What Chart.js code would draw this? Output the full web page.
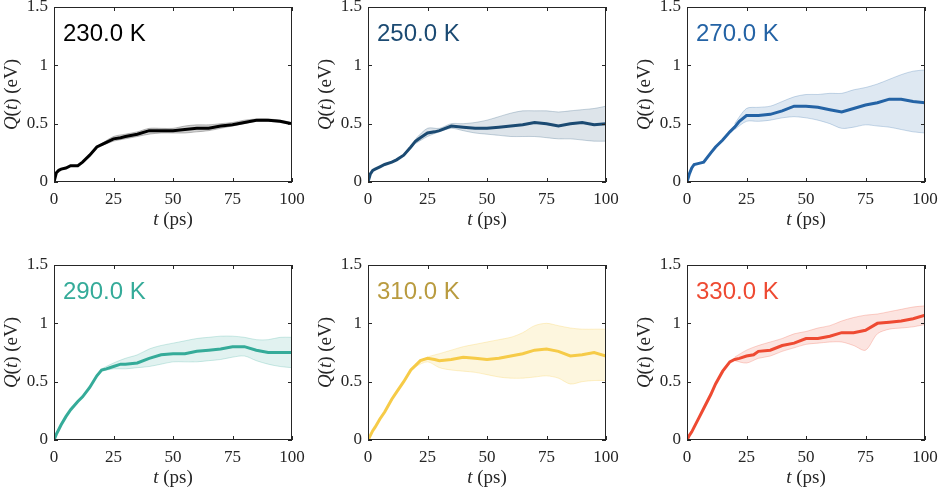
<!DOCTYPE html>
<html lang="en">
<head>
<meta charset="UTF-8">
<title>Q(t) vs t</title>
<script src="https://cdn.jsdelivr.net/npm/chart.js"></script>
<style>
  body { margin: 0; width: 940px; height: 492px; overflow: hidden; background: #fff; position: relative; }
  canvas { position: absolute; }
</style>
</head>
<body>
<script>
// time axis (ps) for the mean curves
const tMain = [0, 1, 2, 3, 5, 7, 10, 12, 15, 18, 20, 22, 25, 28, 30, 35, 40, 45, 50, 55, 60, 65, 70, 75, 80, 85, 90, 95, 100];

// mean Q(t) in eV, one list per temperature
const q230 = [0, 0.08, 0.10, 0.11, 0.12, 0.14, 0.14, 0.17, 0.23, 0.30, 0.32, 0.34, 0.37, 0.38, 0.39, 0.41, 0.44, 0.44, 0.44, 0.45, 0.46, 0.46, 0.48, 0.49, 0.51, 0.53, 0.53, 0.52, 0.50];
const q250 = [0, 0.07, 0.10, 0.11, 0.13, 0.15, 0.17, 0.19, 0.23, 0.30, 0.35, 0.38, 0.42, 0.43, 0.44, 0.48, 0.47, 0.46, 0.46, 0.47, 0.48, 0.49, 0.51, 0.50, 0.48, 0.50, 0.51, 0.49, 0.50];
const q270 = [0, 0.07, 0.12, 0.15, 0.16, 0.17, 0.25, 0.30, 0.36, 0.43, 0.47, 0.52, 0.57, 0.57, 0.57, 0.58, 0.61, 0.65, 0.65, 0.64, 0.62, 0.60, 0.63, 0.66, 0.68, 0.71, 0.71, 0.69, 0.68];
const q290 = [0, 0.05, 0.09, 0.13, 0.20, 0.26, 0.33, 0.37, 0.45, 0.55, 0.60, 0.61, 0.63, 0.65, 0.65, 0.66, 0.70, 0.73, 0.74, 0.74, 0.76, 0.77, 0.78, 0.80, 0.80, 0.77, 0.75, 0.75, 0.75];
const q310 = [0, 0.04, 0.08, 0.11, 0.18, 0.24, 0.35, 0.41, 0.50, 0.60, 0.64, 0.68, 0.70, 0.69, 0.68, 0.69, 0.71, 0.70, 0.69, 0.70, 0.72, 0.74, 0.77, 0.78, 0.76, 0.72, 0.73, 0.75, 0.72];
const q330 = [0, 0.04, 0.07, 0.11, 0.19, 0.27, 0.39, 0.48, 0.59, 0.67, 0.69, 0.70, 0.72, 0.73, 0.76, 0.77, 0.81, 0.83, 0.87, 0.87, 0.89, 0.92, 0.92, 0.94, 1.00, 1.01, 1.02, 1.04, 1.07];

// time axis for the spread bands
const tBand = [20, 25, 30, 35, 40, 45, 50, 55, 60, 65, 70, 75, 80, 85, 90, 95, 100];

const lo230 = [0.31, 0.35, 0.37, 0.39, 0.41, 0.42, 0.42, 0.42, 0.43, 0.44, 0.46, 0.48, 0.50, 0.52, 0.52, 0.51, 0.49];
const hi230 = [0.33, 0.39, 0.41, 0.43, 0.46, 0.46, 0.46, 0.48, 0.49, 0.49, 0.50, 0.51, 0.53, 0.54, 0.54, 0.53, 0.51];
const lo250 = [0.33, 0.39, 0.43, 0.46, 0.44, 0.42, 0.41, 0.40, 0.39, 0.39, 0.39, 0.38, 0.37, 0.37, 0.36, 0.35, 0.35];
const hi250 = [0.37, 0.46, 0.46, 0.50, 0.50, 0.51, 0.53, 0.56, 0.59, 0.61, 0.61, 0.61, 0.60, 0.61, 0.62, 0.63, 0.65];
const lo270 = [0.45, 0.52, 0.52, 0.53, 0.55, 0.56, 0.55, 0.53, 0.50, 0.46, 0.47, 0.49, 0.48, 0.47, 0.45, 0.43, 0.42];
const hi270 = [0.50, 0.63, 0.64, 0.65, 0.69, 0.73, 0.75, 0.75, 0.76, 0.76, 0.79, 0.81, 0.84, 0.88, 0.92, 0.95, 0.96];
const lo290 = [0.59, 0.61, 0.61, 0.62, 0.63, 0.65, 0.67, 0.67, 0.67, 0.68, 0.69, 0.71, 0.72, 0.68, 0.65, 0.63, 0.62];
const hi290 = [0.61, 0.66, 0.70, 0.73, 0.78, 0.81, 0.83, 0.85, 0.87, 0.88, 0.89, 0.89, 0.88, 0.86, 0.86, 0.88, 0.88];
const lo310 = [0.63, 0.67, 0.62, 0.60, 0.59, 0.58, 0.56, 0.54, 0.53, 0.53, 0.54, 0.55, 0.53, 0.48, 0.50, 0.51, 0.51];
const hi310 = [0.65, 0.71, 0.74, 0.77, 0.80, 0.82, 0.84, 0.86, 0.88, 0.92, 0.98, 1.00, 0.98, 0.96, 0.95, 0.95, 0.95];
const lo330 = [0.68, 0.66, 0.70, 0.72, 0.76, 0.79, 0.82, 0.83, 0.84, 0.84, 0.81, 0.77, 0.91, 0.95, 0.96, 0.97, 0.99];
const hi330 = [0.71, 0.77, 0.81, 0.84, 0.87, 0.91, 0.93, 0.96, 0.98, 1.02, 1.05, 1.07, 1.08, 1.10, 1.12, 1.14, 1.15];

const tempLabels = ['230.0 K', '250.0 K', '270.0 K', '290.0 K', '310.0 K', '330.0 K'];
const xTicks = [0, 25, 50, 75, 100];
const yTicks = [0, 0.5, 1, 1.5];

const means = [q230, q250, q270, q290, q310, q330];
const lows = [lo230, lo250, lo270, lo290, lo310, lo330];
const highs = [hi230, hi250, hi270, hi290, hi310, hi330];

const lineColors = ['#000000', '#1b4a72', '#2463a5', '#35ab99', '#f6cb48', '#ee4a32'];
const textColors = ['#000000', '#1b4a72', '#2463a5', '#35ab99', '#b99b3f', '#ee4a32'];
const bandFills = ['rgba(0,0,0,0.18)', 'rgba(27,74,114,0.15)', 'rgba(36,99,165,0.15)', 'rgba(53,171,153,0.15)', 'rgba(246,203,72,0.18)', 'rgba(238,74,50,0.15)'];
const bandEdges = ['rgba(0,0,0,0.3)', 'rgba(27,74,114,0.3)', 'rgba(36,99,165,0.3)', 'rgba(53,171,153,0.3)', 'rgba(246,203,72,0.35)', 'rgba(238,74,50,0.3)'];

// panel placement (canvas top-left), 2 rows x 3 cols
const colLeft = [0, 314, 633];
const rowTop = [0, 258];

const serif = '"Liberation Serif", "DejaVu Serif", serif';

// draws text pieces with mixed italic / upright, centred at (cx, cy)
function mixedText(ctx, parts, cx, cy, size) {
  let w = 0;
  parts.forEach(p => { ctx.font = (p[1] ? 'italic ' : '') + size + 'px ' + serif; w += ctx.measureText(p[0]).width; });
  let x = cx - w / 2;
  ctx.textBaseline = 'middle';
  ctx.textAlign = 'left';
  parts.forEach(p => {
    ctx.font = (p[1] ? 'italic ' : '') + size + 'px ' + serif;
    ctx.fillText(p[0], x, cy);
    x += ctx.measureText(p[0]).width;
  });
}

const framePlugin = {
  id: 'frame',
  afterDraw(chart, args, opts) {
    const { ctx, chartArea: a, scales: { x, y } } = chart;
    ctx.save();
    ctx.strokeStyle = '#262626';
    ctx.lineWidth = 1;
    ctx.strokeRect(a.left + 0.5, a.top + 0.5, a.right - a.left - 1, a.bottom - a.top - 1);
    const tl = 4;
    ctx.beginPath();
    x.ticks.forEach(t => {
      const px = Math.round(x.getPixelForValue(t.value)) + 0.5;
      ctx.moveTo(px, a.bottom); ctx.lineTo(px, a.bottom - tl);
      ctx.moveTo(px, a.top); ctx.lineTo(px, a.top + tl);
    });
    y.ticks.forEach(t => {
      const py = Math.round(y.getPixelForValue(t.value)) + 0.5;
      ctx.moveTo(a.left, py); ctx.lineTo(a.left + tl, py);
      ctx.moveTo(a.right, py); ctx.lineTo(a.right - tl, py);
    });
    ctx.stroke();

    // temperature label
    ctx.fillStyle = opts.color;
    ctx.font = '24px "Liberation Sans", Arial, sans-serif';
    ctx.textBaseline = 'alphabetic';
    ctx.textAlign = 'left';
    ctx.fillText(opts.text, a.left + 9, a.top + 34);

    // axis titles
    ctx.fillStyle = '#262626';
    mixedText(ctx, [['t', true], [' (ps)', false]], (a.left + a.right) / 2, a.bottom + 38, 19);
    ctx.translate(12, (a.top + a.bottom) / 2);
    ctx.rotate(-Math.PI / 2);
    mixedText(ctx, [['Q', true], ['(', false], ['t', true], [') (eV)', false]], 0, 0, 19);
    ctx.restore();
  }
};

for (let i = 0; i < 6; i++) {
  const cv = document.createElement('canvas');
  cv.width = 306;
  cv.height = 234;
  cv.style.left = colLeft[i % 3] + 'px';
  cv.style.top = rowTop[Math.floor(i / 3)] + 'px';
  document.body.appendChild(cv);

  new Chart(cv.getContext('2d'), {
    type: 'line',
    data: {
      datasets: [
        {
          data: tMain.map((t, k) => ({ x: t, y: means[i][k] })),
          borderColor: lineColors[i],
          borderWidth: 3,
          pointRadius: 0,
          tension: 0,
          fill: false
        },
        {
          data: tBand.map((t, k) => ({ x: t, y: highs[i][k] })),
          borderColor: bandEdges[i],
          backgroundColor: bandFills[i],
          borderWidth: 0.8,
          pointRadius: 0,
          tension: 0.3,
          fill: '+1'
        },
        {
          data: tBand.map((t, k) => ({ x: t, y: lows[i][k] })),
          borderColor: bandEdges[i],
          borderWidth: 0.8,
          pointRadius: 0,
          tension: 0.3,
          fill: false
        }
      ]
    },
    options: {
      responsive: false,
      animation: false,
      layout: { padding: { top: 7, right: 14, left: 0, bottom: 0 } },
      plugins: {
        legend: { display: false },
        tooltip: { enabled: false },
        frame: { text: tempLabels[i], color: textColors[i] }
      },
      scales: {
        x: {
          type: 'linear',
          min: 0,
          max: 100,
          afterFit(s) { s.height = 52; s.paddingLeft = 0; s.paddingRight = 0; },
          afterBuildTicks(s) { s.ticks = xTicks.map(v => ({ value: v })); },
          grid: { display: false, drawTicks: false },
          border: { display: false },
          ticks: { color: '#262626', padding: 7, font: { family: serif, size: 17 }, maxRotation: 0 }
        },
        y: {
          min: 0,
          max: 1.5,
          afterFit(s) { s.width = 54; s.paddingTop = 0; s.paddingBottom = 0; },
          afterBuildTicks(s) { s.ticks = yTicks.map(v => ({ value: v })); },
          grid: { display: false, drawTicks: false },
          border: { display: false },
          ticks: { color: '#262626', padding: 6, font: { family: serif, size: 17 }, callback: v => String(v) }
        }
      }
    },
    plugins: [framePlugin]
  });
}
</script>
</body>
</html>
